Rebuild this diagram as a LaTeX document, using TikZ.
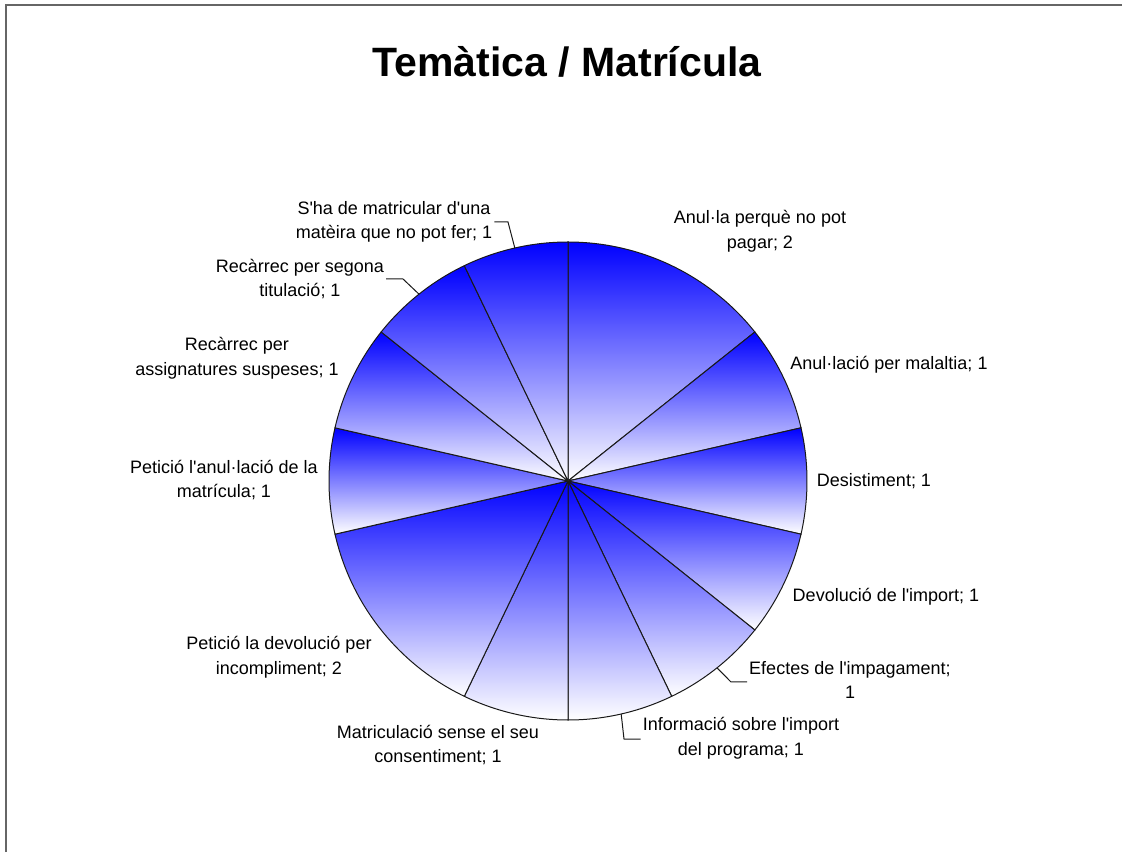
\documentclass[tikz,border=0pt]{standalone}
\usepackage{fontspec}
\setmainfont{Liberation Sans}
\newcommand\aq{\textquotesingle}
\usetikzlibrary{calc}
\tikzset{
  slice/.style={top color=blue, bottom color=white, draw=black!90, line width=1pt},
  lab/.style={align=center, inner sep=2pt, font=\fontsize{18}{24.5}\selectfont},
  leader/.style={draw=black!90, line width=1pt},
  frame/.style={draw=black!60, line width=1.8pt}
}
\begin{document}
\begin{tikzpicture}[x=1pt,y=1pt]
\useasboundingbox (0,0) rectangle (1122,852);
\draw[frame] (6,0) -- (6,847) -- (1122,847);
\node[font=\fontsize{41}{48}\selectfont\bfseries] (title) at (567,790) {Temàtica / Matrícula};
\coordinate (c) at (568,371);
\def\R{239}
% slices (unit = 360/14)
\foreach \a/\b in {90/38.5714, 38.5714/12.8571, 12.8571/-12.8571, -12.8571/-38.5714,
  -38.5714/-64.2857, -64.2857/-90, -90/-115.7143, -115.7143/-167.1429,
  -167.1429/-192.8571, -192.8571/-218.5714, -218.5714/-244.2857, -244.2857/-270}{
  \shadedraw[slice] (c) -- ++(\a:\R) arc[start angle=\a, end angle=\b, radius=\R] -- cycle;
}
% leader start points (mid-arc)
\path (c) ++(-51.4286:\R) coordinate (m5);
\path (c) ++(-77.1429:\R) coordinate (m6);
\path (c) ++(128.5714:\R) coordinate (m11);
\path (c) ++(102.8571:\R) coordinate (m12);
\coordinate (k5) at (731,170);
\coordinate (k6) at (624,113);
\coordinate (k11) at (403,573);
\coordinate (k12) at (508,630);
% labels
\node[lab] (l1) at (760,621) {Anul·la perquè no pot\\pagar; 2};
\node[lab] (l2) at (889,487) {Anul·lació per malaltia; 1};
\node[lab] (l3) at (874,371) {Desistiment; 1};
\node[lab] (l4) at (886,255) {Devolució de l\aq import; 1};
\node[lab] (l5) at (850,172) {Efectes de l\aq impagament;\\1};
\node[lab] (l6) at (741,114) {Informació sobre l\aq import\\del programa; 1};
\node[lab] (l7) at (438,107) {Matriculació sense el seu\\consentiment; 1};
\node[lab] (l8) at (279,195) {Petició la devolució per\\incompliment; 2};
\node[lab] (l9) at (224,372) {Petició l\aq anul·lació de la\\matrícula; 1};
\node[lab] (l10) at (237,494) {Recàrrec per\\assignatures suspeses; 1};
\node[lab] (l11) at (300,573) {Recàrrec per segona\\titulació; 1};
\node[lab] (l12) at (394,630) {S\aq ha de matricular d\aq una\\matèira que no pot fer; 1};
% leaders
\draw[leader] (m5) -- (k5) -- (l5.west |- k5);
\draw[leader] (m6) -- (k6) -- (l6.west |- k6);
\draw[leader] (m11) -- (k11) -- (l11.east |- k11);
\draw[leader] (m12) -- (k12) -- (l12.east |- k12);
\end{tikzpicture}
\end{document}
